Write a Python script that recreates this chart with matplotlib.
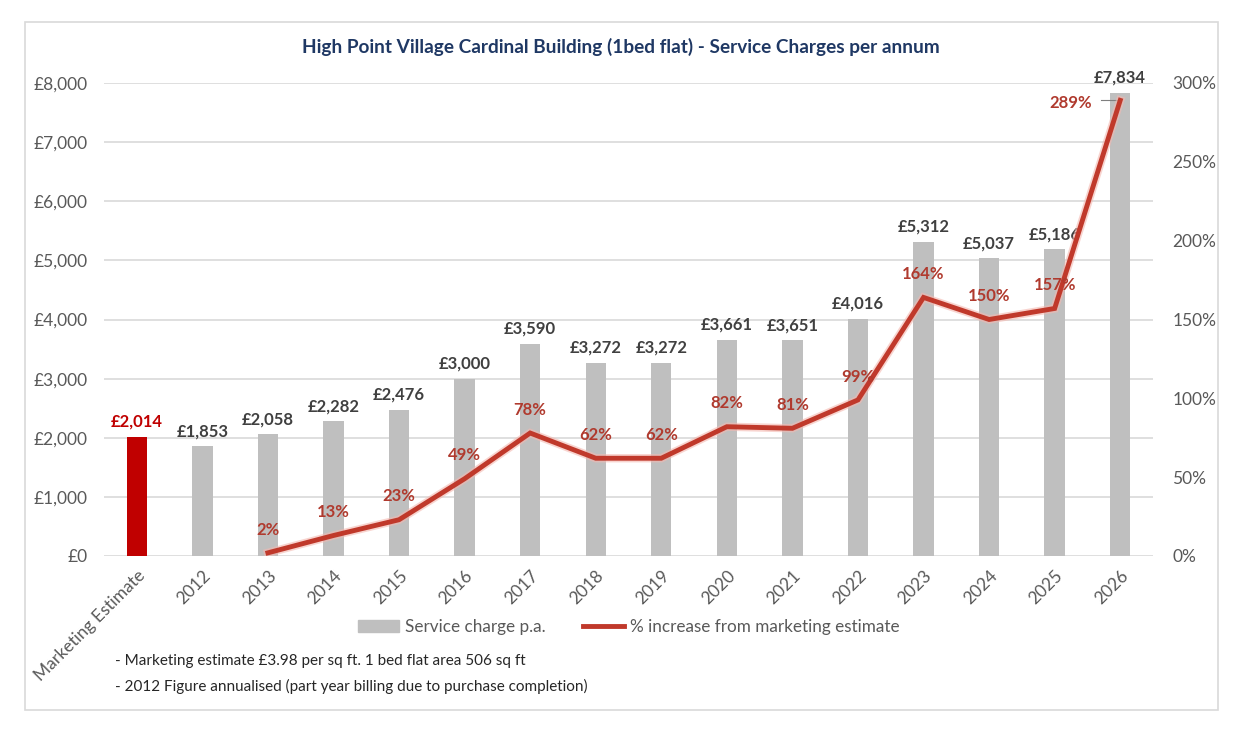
import matplotlib
matplotlib.use("Agg")
import matplotlib.pyplot as plt
from matplotlib.patches import Rectangle
from matplotlib.lines import Line2D
import matplotlib.patheffects as pe
from matplotlib.ticker import FuncFormatter, MultipleLocator

categories = ["Marketing Estimate", "2012", "2013", "2014", "2015", "2016", "2017", "2018",
              "2019", "2020", "2021", "2022", "2023", "2024", "2025", "2026"]
charges = [2014, 1853, 2058, 2282, 2476, 3000, 3590, 3272, 3272, 3661, 3651, 4016,
           5312, 5037, 5186, 7834]
pct_categories = ["2013", "2014", "2015", "2016", "2017", "2018", "2019", "2020", "2021",
                  "2022", "2023", "2024", "2025", "2026"]
pct_increase = [2, 13, 23, 49, 78, 62, 62, 82, 81, 99, 164, 150, 157, 289]

plt.rcParams['font.family'] = ['Lato', 'DejaVu Sans']

fig = plt.figure(figsize=(12.52, 7.44), dpi=100)
fig.patch.set_facecolor("white")
# outer border
fig.add_artist(Rectangle((25/1252, 1-710/744), (1218-25)/1252, (710-22)/744,
                         transform=fig.transFigure, fill=False, edgecolor="#D9D9D9", lw=1.2))

ax = fig.add_axes([104/1252, 1-556/744, (1153-104)/1252, (556-83)/744])
x = list(range(len(categories)))
colors = ["#C00000"] + ["#BFBFBF"] * (len(categories) - 1)
ax.bar(x, charges, width=0.31, color=colors, zorder=2)
ax.set_xlim(-0.5, len(categories) - 0.5)
ax.set_ylim(0, 8000)
ax.yaxis.set_major_locator(MultipleLocator(1000))
ax.yaxis.set_major_formatter(FuncFormatter(lambda v, p: f"£{int(v):,}"))
ax.grid(axis="y", color="#D9D9D9", lw=1.2, zorder=0)
ax.set_axisbelow(True)
for s in ax.spines.values():
    s.set_visible(False)
ax.tick_params(axis="both", length=0, labelsize=12.5, labelcolor="#595959")
ax.tick_params(axis="y", pad=12)
ax.set_xticks(x)
ax.set_xticklabels(categories, rotation=45, ha="right", rotation_mode="anchor")
ax.tick_params(axis="x", pad=8)

for i, v in enumerate(charges):
    ax.annotate(f"£{v:,}", (i, v), xytext=(0, 5), textcoords="offset points",
                ha="center", va="bottom", fontsize=12, fontweight="bold",
                color="#C00000" if i == 0 else "#404040")

ax2 = ax.twinx()
ax2.set_ylim(0, 300)
ax2.yaxis.set_major_locator(MultipleLocator(50))
ax2.yaxis.set_major_formatter(FuncFormatter(lambda v, p: f"{int(v)}%"))
for s in ax2.spines.values():
    s.set_visible(False)
ax2.tick_params(axis="y", length=0, labelsize=12.5, labelcolor="#595959", pad=14)
px = [categories.index(c) for c in pct_categories]
ax2.plot(px, pct_increase, color="#C0392B", lw=3.5, zorder=3, solid_joinstyle="miter",
         path_effects=[pe.Stroke(linewidth=6, foreground="#F4B8B0", alpha=0.6), pe.Normal()])
for xi, v in zip(px, pct_increase):
    if v == 289:
        ax2.annotate(f"{v}%", (xi, v), xytext=(-20, -2), textcoords="offset points",
                     ha="right", va="center", fontsize=12, fontweight="bold", color="#B03A2E",
                     zorder=5)
        ax2.plot([xi - 0.3, xi - 0.05], [v, v], color="#7F7F7F", lw=0.8, zorder=2.5)
    else:
        ax2.annotate(f"{v}%", (xi, v), xytext=(0, 11), textcoords="offset points",
                     ha="center", va="bottom", fontsize=12, fontweight="bold", color="#B03A2E",
                     zorder=5)

fig.text(621/1252, 1-47/744, "High Point Village Cardinal Building (1bed flat) - Service Charges per annum",
         ha="center", va="center", fontsize=13.7, fontweight="bold", color="#1F3864")

handles = [Rectangle((0, 0), 1, 1, color="#BFBFBF"),
           Line2D([0], [0], color="#C0392B", lw=3.5)]
fig.legend(handles, ["Service charge p.a.", "% increase from marketing estimate"],
           loc="center", bbox_to_anchor=(629/1252, 1-627/744), ncol=2, frameon=False,
           fontsize=12.3, labelcolor="#595959", handlelength=2.4, columnspacing=2.2,
           handletextpad=0.35)

fig.text(115/1252, 1-661/744, "- Marketing estimate £3.98 per sq ft. 1 bed flat area 506 sq ft",
         ha="left", va="center", fontsize=11, color="#262626")
fig.text(115/1252, 1-686/744, "- 2012 Figure annualised (part year billing due to purchase completion)",
         ha="left", va="center", fontsize=11, color="#262626")

fig.savefig("out.png", dpi=100, facecolor="white")
